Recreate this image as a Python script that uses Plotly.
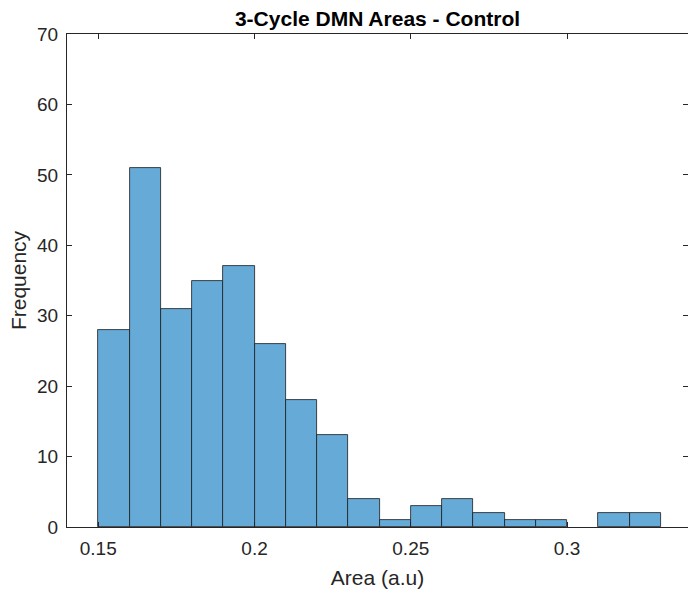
import plotly.graph_objects as go

# Histogram bin edges (0.15 .. 0.33, width 0.01) and counts per bin
bin_start = 0.15
bin_width = 0.01
counts = [28, 51, 31, 35, 37, 26, 18, 13, 4, 1, 3, 4, 2, 1, 1, 0, 2, 2]
bin_centers = [round(bin_start + bin_width * (i + 0.5), 4) for i in range(len(counts))]

x_ticks = [0.15, 0.2, 0.25, 0.3]
x_tick_text = ["0.15", "0.2", "0.25", "0.3"]
y_ticks = [0, 10, 20, 30, 40, 50, 60, 70]

axis_color = "#262626"
font_family = "Liberation Sans, Arial, Helvetica, sans-serif"

# empty bins get no outline so no stray line sits on the baseline
edge_widths = [0.8 if c > 0 else 0 for c in counts]

fig = go.Figure(
    go.Bar(
        x=bin_centers,
        y=counts,
        width=bin_width,
        marker=dict(color="#66AAD7", line=dict(color="#1a1a1a", width=edge_widths)),
    )
)

# invisible helper trace so the right-hand tick axis is drawn
fig.add_trace(go.Scatter(x=[None], y=[None], yaxis="y2", showlegend=False, hoverinfo="skip"))

fig.update_layout(
    width=688,
    height=594,
    margin=dict(l=67, r=0, t=34, b=67),
    paper_bgcolor="white",
    plot_bgcolor="white",
    showlegend=False,
    bargap=0,
    font=dict(family=font_family, color=axis_color, size=19),
    title=dict(
        text="<b>3-Cycle DMN Areas - Control</b>",
        x=0.5,
        xref="paper",
        xanchor="center",
        y=1,
        yref="paper",
        yanchor="bottom",
        pad=dict(b=8),
        font=dict(size=21, color="black", family=font_family),
    ),
    xaxis=dict(
        range=[0.14, 0.3387],
        tickvals=x_ticks,
        ticktext=x_tick_text,
        ticks="inside",
        ticklen=5,
        tickcolor=axis_color,
        ticklabelstandoff=4,
        showline=True,
        linecolor=axis_color,
        linewidth=1,
        mirror="ticks",
        showgrid=False,
        zeroline=False,
        tickfont=dict(size=19, color=axis_color),
        title=dict(text="Area (a.u)", font=dict(size=21, color=axis_color), standoff=12),
    ),
    yaxis=dict(
        range=[0, 70],
        tickvals=y_ticks,
        ticks="inside",
        ticklen=5,
        tickcolor=axis_color,
        ticklabelstandoff=4,
        showline=True,
        linecolor=axis_color,
        linewidth=1,
        mirror=False,
        showgrid=False,
        zeroline=False,
        tickfont=dict(size=19, color=axis_color),
        title=dict(text="Frequency", font=dict(size=21, color=axis_color), standoff=4),
    ),
    yaxis2=dict(
        overlaying="y",
        side="right",
        range=[0, 70],
        tickvals=y_ticks,
        ticks="inside",
        ticklen=5,
        tickcolor=axis_color,
        showticklabels=False,
        showline=False,
        showgrid=False,
        zeroline=False,
    ),
)

fig.write_html("out.html")
